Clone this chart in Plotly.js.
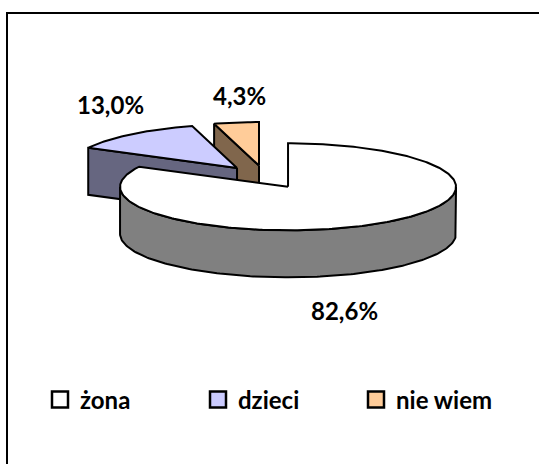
<!DOCTYPE html>
<html><head><meta charset="utf-8">
<script src="https://cdn.plot.ly/plotly-3.0.1.min.js"></script>
<style>html,body{margin:0;padding:0;background:#fff}</style>
</head><body><div id="chart" style="width:539px;height:464px"></div>
<script>
// ---- data ----
const categories = ['żona', 'dzieci', 'nie wiem'];
const values = [82.6, 13.0, 4.3];
const topColors = ['#FFFFFF', '#CCCCFF', '#FFCC99'];
const sideColors = ['#808080', '#666680', '#80664C'];

// ---- layout / geometry (pixel-space axes) ----
const W = 539, H = 464;
const geo = {cx: 265, cy: 177, a: 168, b: 43.5, depth: 47, pull: 0.265, start: 90};
const labelPos = [[344, 310], [110, 104], [239, 95]];
const FONT = {family: 'Lato, "Liberation Sans", sans-serif', size: 24, color: '#000', weight: 'bold'};

const total = values.reduce((s, v) => s + v, 0);
const rad = d => d * Math.PI / 180;
let ang = geo.start;
const slices = values.map((v, i) => {
  const sweep = v / total * 360;
  const t1 = ang, t2 = ang - sweep; ang = t2;
  const mid = (t1 + t2) / 2;
  return {i, t1, t2, mid,
    ox: geo.cx + geo.pull * geo.a * Math.cos(rad(mid)),
    oy: geo.cy - geo.pull * geo.b * Math.sin(rad(mid))};
});
function pt(s, th, h) { return [s.ox + geo.a * Math.cos(rad(th)), s.oy - geo.b * Math.sin(rad(th)) + h]; }
function arc(s, from, to, h) {
  const n = Math.max(2, Math.ceil(Math.abs(to - from)));
  const out = [];
  for (let k = 0; k <= n; k++) out.push(pt(s, from + (to - from) * k / n, h));
  return out;
}
function poly(points, fill) {
  return {type: 'scatter', mode: 'lines', x: points.map(p => p[0]), y: points.map(p => p[1]),
    fill: 'toself', fillcolor: fill, line: {color: '#000', width: 2}, hoverinfo: 'skip', showlegend: false};
}
const traces = [];
const order = slices.slice().sort((p, q) => Math.sin(rad(q.mid)) - Math.sin(rad(p.mid)));
order.forEach(s => {
  const apexT = [s.ox, s.oy], apexB = [s.ox, s.oy + geo.depth];
  // radial faces
  if (Math.cos(rad(s.t1)) < -1e-6) traces.push(poly([apexT, pt(s, s.t1, 0), pt(s, s.t1, geo.depth), apexB, apexT], sideColors[s.i]));
  if (Math.cos(rad(s.t2)) > 1e-6) traces.push(poly([apexT, pt(s, s.t2, 0), pt(s, s.t2, geo.depth), apexB, apexT], sideColors[s.i]));
  // outer front side
  for (let k = -3; k <= 2; k++) {
    const lo = Math.max(s.t2, 180 + 360 * k), hi = Math.min(s.t1, 360 + 360 * k);
    if (hi > lo) {
      const pts = arc(s, lo, hi, 0).concat(arc(s, hi, lo, geo.depth));
      pts.push(pts[0]);
      traces.push(poly(pts, sideColors[s.i]));
    }
  }
  // top face
  const topPts = [apexT].concat(arc(s, s.t1, s.t2, 0)); topPts.push(apexT);
  traces.push(poly(topPts, topColors[s.i]));
});
// legend entries
categories.forEach((c, i) => traces.push({type: 'scatter', mode: 'markers', x: [null], y: [null], name: c,
  marker: {symbol: 'square', size: 16, color: topColors[i], line: {color: '#000', width: 2.5}}, hoverinfo: 'skip'}));

const fmt = v => v.toFixed(1).replace('.', ',') + '%';
const annotations = values.map((v, i) => ({x: labelPos[i][0], y: labelPos[i][1], xref: 'x', yref: 'y',
  text: fmt(v), showarrow: false, font: FONT, xanchor: 'center', yanchor: 'middle'}));

const layout = {
  width: W, height: H, margin: {l: 0, r: 0, t: 0, b: 0},
  paper_bgcolor: '#fff', plot_bgcolor: '#fff',
  xaxis: {range: [0, W], visible: false, fixedrange: true},
  yaxis: {range: [H, 0], visible: false, fixedrange: true},
  shapes: [{type: 'rect', xref: 'x', yref: 'y', x0: 7, y0: 13, x1: W + 10, y1: H + 10, line: {color: '#000', width: 2}}],
  annotations: annotations,
  showlegend: true,
  legend: {orientation: 'h', x: 40 / W, xanchor: 'left', y: 1 - 400 / H, yanchor: 'middle',
    font: FONT, entrywidth: 113, bgcolor: 'rgba(0,0,0,0)', itemclick: false, itemdoubleclick: false},
  hovermode: false
};
Plotly.newPlot('chart', traces, layout, {displayModeBar: false, staticPlot: true});
</script></body></html>
